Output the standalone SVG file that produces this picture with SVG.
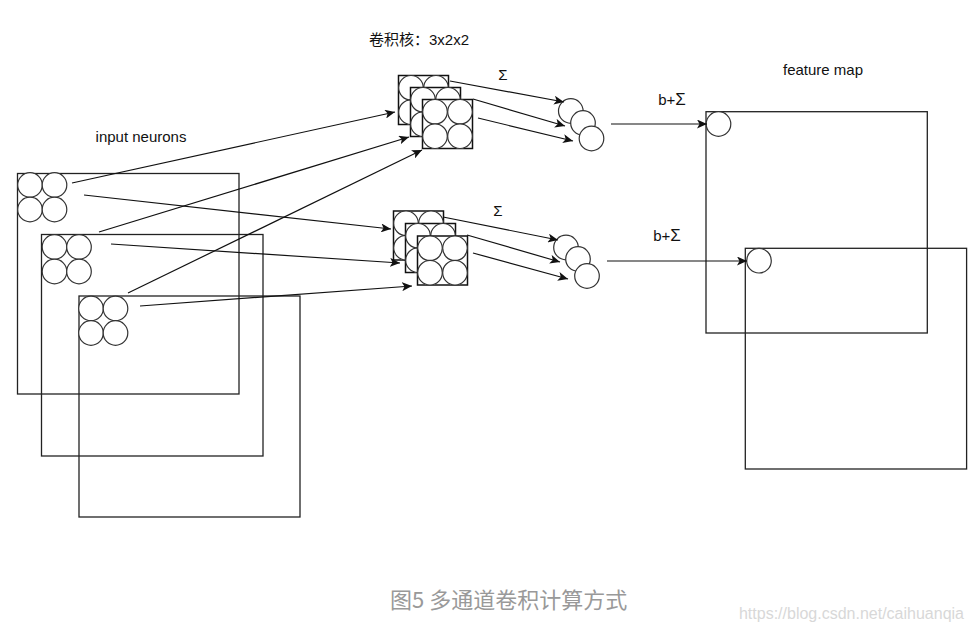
<svg xmlns="http://www.w3.org/2000/svg" xmlns:xlink="http://www.w3.org/1999/xlink" width="972" height="629" viewBox="0 0 972 629">
<style>
.box{fill:none;stroke:#222;stroke-width:1.3}
.kb{fill:#fff;stroke:#111;stroke-width:1.5}
.c{fill:#fff;stroke:#333;stroke-width:1.2}
.ln{fill:none;stroke:#111;stroke-width:1.2}
.t{font-family:"Liberation Sans",Arial,"Noto Sans CJK SC",sans-serif;font-size:15px;fill:#111}
.cap{font-family:"Noto Sans CJK SC","Liberation Sans",sans-serif;font-size:22px;fill:#999}
.wm{font-family:"Liberation Sans",Arial,sans-serif;font-size:16px;fill:#d8d8d8}
</style>
<defs>
<marker id="ar" markerWidth="11" markerHeight="9" refX="10" refY="4.5" orient="auto" markerUnits="userSpaceOnUse">
<path d="M0,0 L10,4.5 L0,9 L2.5,4.5 z" fill="#111"/>
</marker>
<g id="kern">
<rect class="kb" x="0" y="0" width="50" height="49"/>
<circle class="c" cx="12.5" cy="12.3" r="12.3"/>
<circle class="c" cx="37.5" cy="12.3" r="12.3"/>
<circle class="c" cx="12.5" cy="36.7" r="12.3"/>
<circle class="c" cx="37.5" cy="36.7" r="12.3"/>
</g>
<g id="quad">
<circle class="c" cx="0" cy="0" r="12.3"/>
<circle class="c" cx="24.5" cy="0" r="12.3"/>
<circle class="c" cx="0" cy="24.5" r="12.3"/>
<circle class="c" cx="24.5" cy="24.5" r="12.3"/>
</g>
</defs>
<rect width="972" height="629" fill="#fff"/>

<g id="input1"><rect class="box" x="17.5" y="173.5" width="221.5" height="220.5"/><use xlink:href="#quad" x="30" y="185"/></g>
<g id="input2"><rect class="box" x="41.5" y="234.5" width="221.5" height="221.5"/><use xlink:href="#quad" x="54.5" y="247"/></g>
<g id="input3"><rect class="box" x="79" y="296" width="221" height="221"/><use xlink:href="#quad" x="91" y="308.5"/></g>

<g id="kernel1">
<use xlink:href="#kern" x="398.5" y="75.5"/>
<use xlink:href="#kern" x="410.5" y="87.5"/>
<use xlink:href="#kern" x="422.5" y="99.5"/>
</g>
<g id="kernel2">
<use xlink:href="#kern" x="393.5" y="211"/>
<use xlink:href="#kern" x="405.5" y="223.5"/>
<use xlink:href="#kern" x="417.5" y="236"/>
</g>

<g id="sum1">
<circle class="c" cx="570.8" cy="111" r="12.3"/>
<circle class="c" cx="583" cy="123" r="12.3"/>
<circle class="c" cx="591.5" cy="138.5" r="12.3"/>
</g>
<g id="sum2">
<circle class="c" cx="566" cy="247.5" r="12.3"/>
<circle class="c" cx="578" cy="259" r="12.3"/>
<circle class="c" cx="587" cy="276" r="12.3"/>
</g>

<g id="fmap1"><rect class="box" x="706" y="111.7" width="221.3" height="221.3"/><circle class="c" cx="718.5" cy="124" r="12.3"/></g>
<g id="fmap2"><rect class="box" x="745.3" y="248.3" width="221.3" height="220.7"/><circle class="c" cx="759" cy="260.7" r="12.3"/></g>

<g id="labels">
<text class="t" x="141" y="142" text-anchor="middle">input neurons</text>
<text class="t" x="369" y="45" font-size="14">卷积核：3x2x2</text>
<text class="t" x="503" y="80" text-anchor="middle" font-size="19">Σ</text>
<text class="t" x="498" y="216" text-anchor="middle" font-size="19">Σ</text>
<text class="t" x="672" y="105" text-anchor="middle">b+<tspan font-size="17">Σ</tspan></text>
<text class="t" x="667" y="241" text-anchor="middle">b+<tspan font-size="17">Σ</tspan></text>
<text class="t" x="823" y="75" text-anchor="middle">feature map</text>
<text class="cap" x="390" y="608">图5 多通道卷积计算方式</text>
<text class="wm" x="964" y="619" text-anchor="end">https://blog.csdn.net/caihuanqia</text>
</g>

<g id="connectors">
<line class="ln" x1="72" y1="183" x2="395" y2="112" marker-end="url(#ar)"/>
<line class="ln" x1="84" y1="195" x2="391" y2="229" marker-end="url(#ar)"/>
<line class="ln" x1="99" y1="232" x2="409" y2="137" marker-end="url(#ar)"/>
<line class="ln" x1="111" y1="244" x2="400" y2="263" marker-end="url(#ar)"/>
<line class="ln" x1="128" y1="293" x2="422" y2="150" marker-end="url(#ar)"/>
<line class="ln" x1="140" y1="306" x2="412" y2="286" marker-end="url(#ar)"/>
<line class="ln" x1="450" y1="81" x2="564" y2="102" marker-end="url(#ar)"/>
<line class="ln" x1="473" y1="99" x2="565" y2="126" marker-end="url(#ar)"/>
<line class="ln" x1="478" y1="118" x2="573" y2="141" marker-end="url(#ar)"/>
<line class="ln" x1="443" y1="217" x2="558" y2="240" marker-end="url(#ar)"/>
<line class="ln" x1="467" y1="235" x2="560" y2="262" marker-end="url(#ar)"/>
<line class="ln" x1="473" y1="253" x2="568" y2="279" marker-end="url(#ar)"/>
<line class="ln" x1="611" y1="124" x2="707" y2="124" marker-end="url(#ar)"/>
<line class="ln" x1="607" y1="261" x2="747" y2="261" marker-end="url(#ar)"/>
</g>
</svg>
